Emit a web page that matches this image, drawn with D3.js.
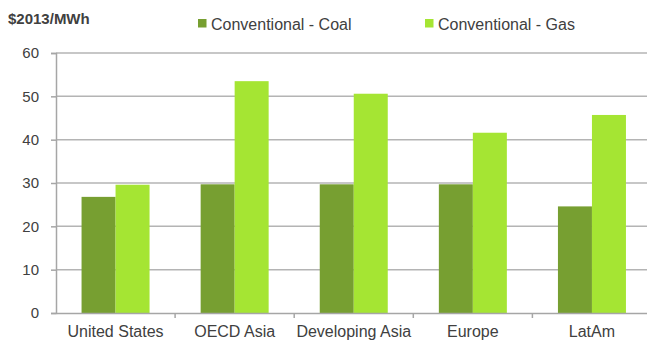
<!DOCTYPE html>
<html>
<head>
<meta charset="utf-8">
<script src="https://cdn.jsdelivr.net/npm/d3@7"></script>
<style>
  body { margin: 0; background: #fff; }
  svg { display: block; font-family: "Liberation Sans", Arial, sans-serif; }
</style>
</head>
<body>
<div id="chart"></div>
<script>
// Data
const regions = ["United States", "OECD Asia", "Developing Asia", "Europe", "LatAm"];
const seriesNames = ["Conventional - Coal", "Conventional - Gas"];
const coalValues = [26.8, 29.7, 29.7, 29.7, 24.6];
const gasValues = [29.6, 53.5, 50.6, 41.6, 45.7];
const yTicks = [0, 10, 20, 30, 40, 50, 60];
const colors = ["#779f31", "#a5e533"];

const W = 647, H = 341;
const margin = {top: 53, left: 56, bottom: 28};
const plotRight = 651.5;

const svg = d3.select("#chart").append("svg")
    .attr("width", W)
    .attr("height", H);

const x = d3.scaleBand()
    .domain(regions)
    .range([margin.left, plotRight]);

const x1 = d3.scaleBand()
    .domain(seriesNames)
    .range([0, 68]);

const y = d3.scaleLinear()
    .domain([0, 60])
    .range([H - margin.bottom, margin.top]);

// gridlines
svg.append("g")
    .selectAll("line")
    .data(yTicks.filter(d => d > 0))
    .join("line")
    .attr("x1", margin.left)
    .attr("x2", W)
    .attr("y1", d => y(d))
    .attr("y2", d => y(d))
    .attr("stroke", "#b4b4b4")
    .attr("stroke-width", 1.5);

// bars
const rows = regions.map((r, i) => ({region: r, values: [coalValues[i], gasValues[i]]}));
const groups = svg.append("g")
    .selectAll("g")
    .data(rows)
    .join("g")
    .attr("transform", d => "translate(" + (x(d.region) + (x.bandwidth() - 68) / 2) + ",0)");

groups.selectAll("rect")
    .data(d => d.values.map((v, i) => ({name: seriesNames[i], value: v, i})))
    .join("rect")
    .attr("x", d => x1(d.name))
    .attr("width", x1.bandwidth())
    .attr("y", d => y(d.value))
    .attr("height", d => y(0) - y(d.value))
    .attr("fill", d => colors[d.i]);

// y axis
const yAxis = svg.append("g")
    .attr("transform", "translate(" + margin.left + ",0)")
    .call(d3.axisLeft(y).tickValues(yTicks).tickSize(5).tickPadding(12));
yAxis.select(".domain").attr("stroke", "#a6a6a6").attr("stroke-width", 1.5);
yAxis.selectAll(".tick line").attr("stroke", "#a6a6a6").attr("stroke-width", 1.5);
yAxis.selectAll("text")
    .attr("fill", "#404040")
    .style("font-size", "15px")
    .style("font-family", "Liberation Sans, Arial, sans-serif");

// x axis
const xAxis = svg.append("g")
    .attr("transform", "translate(0," + y(0) + ")")
    .call(d3.axisBottom(x).tickSize(0).tickPadding(13));
xAxis.select(".domain").attr("stroke", "#a6a6a6").attr("stroke-width", 1.5);
xAxis.selectAll("text")
    .attr("fill", "#404040")
    .style("font-size", "16px")
    .style("font-family", "Liberation Sans, Arial, sans-serif");

// category separators
svg.append("g")
    .selectAll("line")
    .data(regions.slice(1))
    .join("line")
    .attr("x1", d => x(d))
    .attr("x2", d => x(d))
    .attr("y1", y(0))
    .attr("y2", y(0) + 5)
    .attr("stroke", "#a6a6a6")
    .attr("stroke-width", 1.5);

// unit label
svg.append("text")
    .attr("x", 8)
    .attr("y", 24)
    .attr("fill", "#404040")
    .style("font-size", "15px")
    .style("font-weight", "bold")
    .text("$2013/MWh");

// legend
const legendX = [198, 425];
const legend = svg.append("g")
    .selectAll("g")
    .data(seriesNames)
    .join("g")
    .attr("transform", (d, i) => "translate(" + legendX[i] + ",19)");
legend.append("rect")
    .attr("width", 8.5)
    .attr("height", 8.5)
    .attr("fill", (d, i) => colors[i]);
legend.append("text")
    .attr("x", 13)
    .attr("y", 11)
    .attr("fill", "#404040")
    .style("font-size", "16px")
    .text(d => d);
</script>
</body>
</html>
